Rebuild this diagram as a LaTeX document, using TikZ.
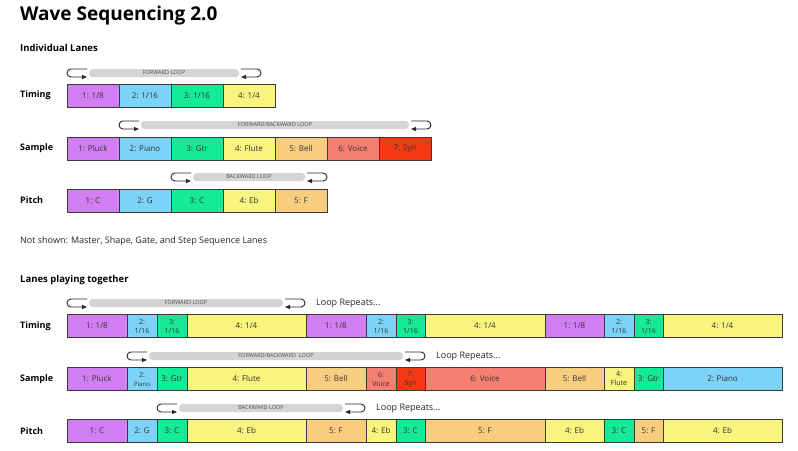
\documentclass[tikz,border=0pt]{standalone}
\usepackage{fontspec}
\setmainfont{Open Sans}
\usetikzlibrary{arrows.meta}
\definecolor{cpur}{HTML}{D07EF2}
\definecolor{cblu}{HTML}{7CD3F7}
\definecolor{cgrn}{HTML}{14EA98}
\definecolor{cyel}{HTML}{F8F47E}
\definecolor{cora}{HTML}{F9CD80}
\definecolor{csal}{HTML}{F77F72}
\definecolor{cred}{HTML}{F43A12}
\definecolor{edge}{HTML}{3A3A3A}
\tikzset{
 cellst/.style={draw=edge,line width=0.8pt,inner sep=0pt,font=\fontsize{8}{9}\selectfont,text=black!80,align=center},
 hook/.style={line width=0.9pt,draw=black!85,-{Triangle[length=5pt,width=4pt]}},
 barst/.style={fill=black!17,rounded corners=3.5pt,draw=none},
 bartext/.style={font=\fontsize{5.5}{6}\selectfont,text=black!70,inner sep=0pt},
 lbl/.style={font=\fontsize{9.5}{11}\selectfont\bfseries,anchor=west,inner sep=0pt},
 note/.style={font=\fontsize{9}{11}\selectfont,anchor=west,inner sep=0pt,text=black!85}
}
\newcommand{\mycell}[6]{% name x0 x1 yc color text
 \pgfmathsetmacro{\cw}{#3-#2}\pgfmathsetmacro{\cx}{(#2+#3)/2}
 \node[cellst,fill=#5,minimum width=\cw pt,minimum height=23pt] (#1) at (\cx,#4) {#6};}
\newcommand{\myloop}[5]{% name x0 x1 y text
 \pgfmathsetmacro{\lx}{(#2+#3)/2}
 \fill[barst] (#2+22,#4-4) rectangle (#3-22,#4+4);
 \node[bartext] (#1) at (\lx,#4) {#5};
 \draw[hook] (#2+20,#4-4) -- (#2+4,#4-4) arc[start angle=90,end angle=270,radius=4pt] -- (#2+20,#4+4);
 \draw[hook] (#3-20,#4-4) -- (#3-4,#4-4) arc[start angle=90,end angle=-90,radius=4pt] -- (#3-20,#4+4);}
\begin{document}
\begin{tikzpicture}[x=1pt,y=-1pt]
\useasboundingbox[fill=white] (0,0) rectangle (798,450);
\node[anchor=west,inner sep=0pt,font=\fontsize{19}{22}\selectfont\bfseries] (title) at (20,16) {Wave Sequencing 2.0};
\node[lbl] (h1) at (20,48) {Individual Lanes};
\node[lbl,font=\fontsize{9}{11}\selectfont\bfseries] (lt1) at (20,95) {Timing};
\node[lbl,font=\fontsize{9}{11}\selectfont\bfseries] (ls1) at (20,148) {Sample};
\node[lbl,font=\fontsize{9}{11}\selectfont\bfseries] (lp1) at (20,200) {Pitch};
% top timing
\myloop{tl1}{67}{261}{73}{FORWARD LOOP}
\mycell{ta}{67}{119}{95.5}{cpur}{1: 1/8}
\mycell{tb}{119}{171}{95.5}{cblu}{2: 1/16}
\mycell{tc}{171}{223}{95.5}{cgrn}{3: 1/16}
\mycell{td}{223}{275}{95.5}{cyel}{4: 1/4}
% top sample
\myloop{sl1}{119}{431}{125}{FORWARD/BACKWARD LOOP}
\mycell{sa}{67}{119}{148.5}{cpur}{1: Pluck}
\mycell{sb}{119}{171}{148.5}{cblu}{2: Piano}
\mycell{sc}{171}{223}{148.5}{cgrn}{3: Gtr}
\mycell{sd}{223}{275}{148.5}{cyel}{4: Flute}
\mycell{se}{275}{327}{148.5}{cora}{5: Bell}
\mycell{sf}{327}{379}{148.5}{csal}{6: Voice}
\mycell{sg}{379}{431}{148.5}{cred}{7: Syn}
% top pitch
\myloop{pl1}{171}{327}{177}{BACKWARD LOOP}
\mycell{pa}{67}{119}{200.5}{cpur}{1: C}
\mycell{pb}{119}{171}{200.5}{cblu}{2: G}
\mycell{pc}{171}{223}{200.5}{cgrn}{3: C}
\mycell{pd}{223}{275}{200.5}{cyel}{4: Eb}
\mycell{pe}{275}{327}{200.5}{cora}{5: F}
\node[note] (ns) at (20,241) {Not shown: Master, Shape, Gate, and Step Sequence Lanes};
\node[lbl] (h2) at (20,280) {Lanes playing together};
\node[lbl,font=\fontsize{9}{11}\selectfont\bfseries] (lt2) at (20,326) {Timing};
\node[lbl,font=\fontsize{9}{11}\selectfont\bfseries] (ls2) at (20,379) {Sample};
\node[lbl,font=\fontsize{9}{11}\selectfont\bfseries] (lp2) at (20,431) {Pitch};
\def\sm{\fontsize{7}{7.5}\selectfont}
% bottom timing
\myloop{tl2}{67}{305}{303}{FORWARD LOOP}
\node[note] (rt) at (316,303) {Loop Repeats...};
\mycell{Ta}{67}{127}{326}{cpur}{1: 1/8}
\mycell{Tb}{127}{157}{326}{cblu}{\sm 2:\\\sm 1/16}
\mycell{Tc}{157}{187}{326}{cgrn}{\sm 3:\\\sm 1/16}
\mycell{Td}{187}{306}{326}{cyel}{4: 1/4}
\mycell{Te}{306}{366}{326}{cpur}{1: 1/8}
\mycell{Tf}{366}{396}{326}{cblu}{\sm 2:\\\sm 1/16}
\mycell{Tg}{396}{425}{326}{cgrn}{\sm 3:\\\sm 1/16}
\mycell{Th}{425}{545}{326}{cyel}{4: 1/4}
\mycell{Ti}{545}{604}{326}{cpur}{1: 1/8}
\mycell{Tj}{604}{634}{326}{cblu}{\sm 2:\\\sm 1/16}
\mycell{Tk}{634}{663}{326}{cgrn}{\sm 3:\\\sm 1/16}
\mycell{Tl}{663}{782}{326}{cyel}{4: 1/4}
% bottom sample
\myloop{sl2}{127}{425}{356}{FORWARD/BACKWARD\ \ LOOP}
\node[note] (rs) at (436,356) {Loop Repeats...};
\mycell{Sa}{67}{127}{379}{cpur}{1: Pluck}
\mycell{Sb}{127}{157}{379}{cblu}{\sm 2:\\\fontsize{6}{7}\selectfont Piano}
\mycell{Sc}{157}{187}{379}{cgrn}{3: Gtr}
\mycell{Sd}{187}{306}{379}{cyel}{4: Flute}
\mycell{Se}{306}{366}{379}{cora}{5: Bell}
\mycell{Sf}{366}{396}{379}{csal}{\sm 6:\\\sm Voice}
\mycell{Sg}{396}{425}{379}{cred}{\sm 7:\\\sm Syn}
\mycell{Sh}{425}{545}{379}{csal}{6: Voice}
\mycell{Si}{545}{604}{379}{cora}{5: Bell}
\mycell{Sj}{604}{634}{379}{cyel}{\sm 4:\\\sm Flute}
\mycell{Sk}{634}{663}{379}{cgrn}{3: Gtr}
\mycell{Sl}{663}{782}{379}{cblu}{2: Piano}
% bottom pitch
\myloop{pl2}{157}{365}{408}{BACKWARD LOOP}
\node[note] (rp) at (376,408) {Loop Repeats...};
\mycell{Pa}{67}{127}{431}{cpur}{1: C}
\mycell{Pb}{127}{157}{431}{cblu}{2: G}
\mycell{Pc}{157}{187}{431}{cgrn}{3: C}
\mycell{Pd}{187}{306}{431}{cyel}{4: Eb}
\mycell{Pe}{306}{366}{431}{cora}{5: F}
\mycell{Pf}{366}{396}{431}{cyel}{4: Eb}
\mycell{Pg}{396}{425}{431}{cgrn}{3: C}
\mycell{Ph}{425}{545}{431}{cora}{5: F}
\mycell{Pi}{545}{604}{431}{cyel}{4: Eb}
\mycell{Pj}{604}{634}{431}{cgrn}{3: C}
\mycell{Pk}{634}{663}{431}{cora}{5: F}
\mycell{Pl}{663}{782}{431}{cyel}{4: Eb}
\end{tikzpicture}
\end{document}
